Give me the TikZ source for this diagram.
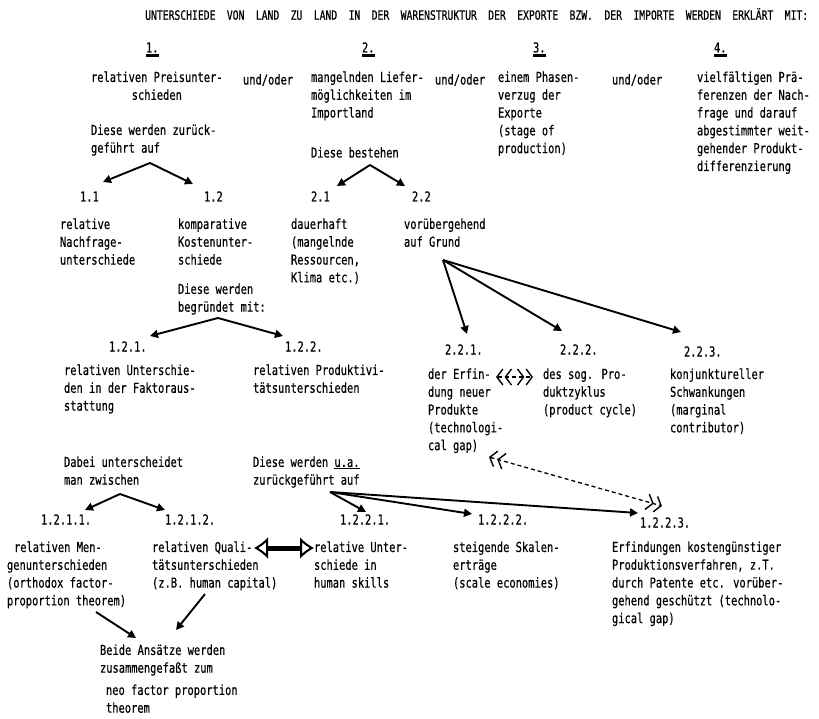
\documentclass[tikz,border=0pt]{standalone}
\usepackage{fontspec}
\usetikzlibrary{arrows.meta}
\newfontfamily\tw[FakeStretch=0.76,FakeBold=0.4]{DejaVu Sans Mono}
\newcommand{\txtfont}{\tw\fontsize{13.7}{17.8}\selectfont}
\newcommand{\ttlfont}{\tw\fontsize{12.8}{14}\selectfont}
\tikzset{
  dbarb/.tip={Straight Barb[length=6pt,width=16pt,line width=1.4pt,sep=1pt]Straight Barb[length=6pt,width=16pt,line width=1.4pt]},
  bighead/.tip={Latex[open,length=14pt,width=22pt,line width=2pt]},
  txt/.style={anchor=north west, inner sep=0pt, outer sep=0pt, align=left, font=\txtfont, execute at begin node=\rule{0pt}{13pt}},
  txtc/.style={txt, align=center},
  arr/.style={line width=1.9pt, -{Triangle[length=8pt,width=8pt]}},
  dasharr/.style={line width=1.3pt, dash pattern=on 4pt off 3pt, dbarb-dbarb},
  dblarr/.style={line width=5pt, bighead-bighead},
  bar/.style={line width=2.4pt}
}
\begin{document}
\begin{tikzpicture}[x=1pt,y=-1pt]
\useasboundingbox[fill=white] (0,0) rectangle (819,719);
% title
\node[anchor=west, inner sep=0pt, font=\ttlfont] (title) at (145,14)
 {\makebox[663pt][l]{UNTERSCHIEDE\hfill VON\hfill LAND\hfill ZU\hfill LAND\hfill IN\hfill DER\hfill WARENSTRUKTUR\hfill DER\hfill EXPORTE\hfill BZW.\hfill DER\hfill IMPORTE\hfill WERDEN\hfill ERKLÄRT\hfill MIT:}};
% headers
\node[txt] (h1) at (146,39.5) {1.};
\node[txt] (h2) at (362,39.5) {2.};
\node[txt] (h3) at (533,39.5) {3.};
\node[txt] (h4) at (714,39.5) {4.};
\foreach \h in {h1,h2,h3,h4}{\draw[bar] ([yshift=-3pt]\h.south west) -- ([yshift=-3pt]\h.south east);}
% row 1
\node[txtc] (b1) at (91,71.5) {relativen Preisunter-\\schieden};
\node[txt] (u1) at (243,71.5) {und/oder};
\node[txt] (b2) at (311,71.5) {mangelnden Liefer-\\möglichkeiten im\\Importland};
\node[txt] (u2) at (435,71.5) {und/oder};
\node[txt] (b3) at (498,71.5) {einem Phasen-\\verzug der\\Exporte\\(stage of\\production)};
\node[txt] (u3) at (612,71.5) {und/oder};
\node[txt] (b4) at (697,71.5) {vielfältigen Prä-\\ferenzen der Nach-\\frage und darauf\\abgestimmter weit-\\gehender Produkt-\\differenzierung};
\node[txt] (d1) at (91,124.5) {Diese werden zurück-\\geführt auf};
\node[txt] (d2) at (311,144.5) {Diese bestehen};
% level 1.1 ...
\node[txt] (n11) at (80,188.5) {1.1};
\node[txt] (n12) at (204,188.5) {1.2};
\node[txt] (n21) at (311,188.5) {2.1};
\node[txt] (n22) at (412,188.5) {2.2};
\node[txt] (t11) at (60,218.5) {relative\\Nachfrage-\\unterschiede};
\node[txt] (t12) at (178,218.5) {komparative\\Kostenunter-\\schiede};
\node[txt] (t21) at (291,218.5) {dauerhaft\\(mangelnde\\Ressourcen,\\Klima etc.)};
\node[txt] (t22) at (404,218.5) {vorübergehend\\auf Grund};
\node[txt] (d3) at (178,283.5) {Diese werden\\begründet mit:};
% level 1.2.x / 2.2.x
\node[txt] (n121) at (109,338.5) {1.2.1.};
\node[txt] (n122) at (285,338.5) {1.2.2.};
\node[txt] (n221) at (445,341.5) {2.2.1.};
\node[txt] (n222) at (560,341.5) {2.2.2.};
\node[txt] (n223) at (684,343.5) {2.2.3.};
\node[txt] (t121) at (64,364.5) {relativen Unterschie-\\den in der Faktoraus-\\stattung};
\node[txt] (t122) at (253,364.5) {relativen Produktivi-\\tätsunterschieden};
\node[txt] (t221) at (428,368.5) {der Erfin-\\dung neuer\\Produkte\\(technologi-\\cal gap)};
\node[txt] (t222) at (543,368.5) {des sog. Pro-\\duktzyklus\\(product cycle)};
\node[txt] (t223) at (670,368.5) {konjunktureller\\Schwankungen\\(marginal\\contributor)};
% lower part
\node[txt] (d4) at (64,456.5) {Dabei unterscheidet\\man zwischen};
\node[txt] (d5) at (253,456.5) {Diese werden \underline{u.a.}\\zurückgeführt auf};
\node[txt] (n1211) at (41,511.5) {1.2.1.1.};
\node[txt] (n1212) at (165,511.5) {1.2.1.2.};
\node[txt] (n1221) at (340,511.5) {1.2.2.1.};
\node[txt] (n1222) at (478,511.5) {1.2.2.2.};
\node[txt] (n1223) at (640,514.5) {1.2.2.3.};
\node[txt] (t1211) at (7,541.5) {\hspace*{7pt}relativen Men-\\genunterschieden\\(orthodox factor-\\proportion theorem)};
\node[txt] (t1212) at (152,541.5) {relativen Quali-\\tätsunterschieden\\(z.B. human capital)};
\node[txt] (t1221) at (314,541.5) {relative Unter-\\schiede in\\human skills};
\node[txt] (t1222) at (453,541.5) {steigende Skalen-\\erträge\\(scale economies)};
\node[txt] (t1223) at (612,541.5) {Erfindungen kostengünstiger\\Produktionsverfahren, z.T.\\durch Patente etc. vorüber-\\gehend geschützt (technolo-\\gical gap)};
\node[txt] (fin1) at (100,644.5) {Beide Ansätze werden\\zusammengefaßt zum};
\node[txt] (fin2) at (106,684.5) {neo factor proportion\\theorem};
% connector coordinates
\coordinate (a1) at (150,163);
\coordinate (a1l) at (103,182);
\coordinate (a1r) at (193,184);
\coordinate (a2) at (370,165);
\coordinate (a2l) at (337,186);
\coordinate (a2r) at (405,186);
\coordinate (a3) at (218,318);
\coordinate (a3l) at (150,336);
\coordinate (a3r) at (283,336);
\coordinate (a4) at (443,260);
\coordinate (a4a) at (467,334);
\coordinate (a4b) at (562,331);
\coordinate (a4c) at (681,332);
\coordinate (a5) at (120,494);
\coordinate (a5l) at (85,510);
\coordinate (a5r) at (165,510);
\coordinate (a6) at (330,492);
\coordinate (a6a) at (366,512);
\coordinate (a6b) at (472,514);
\coordinate (a6c) at (638,513);
\coordinate (a7s) at (96,612);
\coordinate (a7e) at (136,638);
\coordinate (a8s) at (205,594);
\coordinate (a8e) at (176,630);
\coordinate (q1) at (254,548);
\coordinate (q2) at (314,548);
\coordinate (e1) at (496,377);
\coordinate (e2) at (533,377);
\coordinate (g1) at (489,457);
\coordinate (g2) at (662,506);
% connectors
\draw[arr] (a1) -- (a1l);
\draw[arr] (a1) -- (a1r);
\draw[arr] (a2) -- (a2l);
\draw[arr] (a2) -- (a2r);
\draw[arr] (a3) -- (a3l);
\draw[arr] (a3) -- (a3r);
\draw[arr] (a4) -- (a4a);
\draw[arr] (a4) -- (a4b);
\draw[arr] (a4) -- (a4c);
\draw[arr] (a5) -- (a5l);
\draw[arr] (a5) -- (a5r);
\draw[arr] (a6) -- (a6a);
\draw[arr] (a6) -- (a6b);
\draw[arr] (a6) -- (a6c);
\draw[arr] (a7s) -- (a7e);
\draw[arr] (a8s) -- (a8e);
\draw[dblarr] (q1) -- (q2);
\draw[dasharr] (e1) -- (e2);
\draw[dasharr] (g1) -- (g2);
\end{tikzpicture}
\end{document}
